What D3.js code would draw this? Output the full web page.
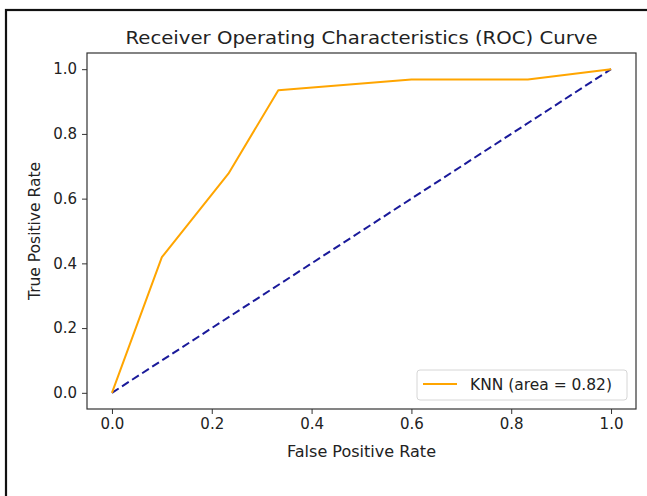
<!DOCTYPE html>
<html>
<head>
<meta charset="utf-8">
<script src="https://cdn.jsdelivr.net/npm/d3@7"></script>
<style>
  html, body { margin: 0; padding: 0; background: #fff; }
  svg { display: block; font-family: "DejaVu Sans", sans-serif; }
</style>
</head>
<body>
<div id="chart"></div>
<script>
const width = 647;
const height = 496;

// KNN ROC curve points
const fpr = [0, 0.1, 0.2333, 0.3333, 0.6, 0.8333, 1.0];
const tpr = [0, 0.419, 0.677, 0.935, 0.968, 0.968, 1.0];
const diagonal = [0, 1];
const tickValues = [0, 0.2, 0.4, 0.6, 0.8, 1.0];
const legendLabel = "KNN (area = 0.82)";

const margin = { top: 53, right: 11, bottom: 87, left: 87 };

const svg = d3.select("#chart").append("svg")
  .attr("width", width).attr("height", height);

// screenshot frame
svg.append("rect")
  .attr("x", 6).attr("y", 10)
  .attr("width", width + 20).attr("height", height + 20)
  .attr("fill", "none").attr("stroke", "#111").attr("stroke-width", 2.2);

const x = d3.scaleLinear().domain([-0.05, 1.05])
  .range([margin.left, width - margin.right]);
const y = d3.scaleLinear().domain([-0.05, 1.05])
  .range([height - margin.bottom, margin.top]);

const line = d3.line().x(d => x(d[0])).y(d => y(d[1]));

// diagonal reference
svg.append("path")
  .datum(diagonal.map(d => [d, d]))
  .attr("d", line)
  .attr("fill", "none")
  .attr("stroke", "#1a1a9a")
  .attr("stroke-width", 2)
  .attr("stroke-dasharray", "8,4");

// ROC curve
svg.append("path")
  .datum(fpr.map((d, i) => [d, tpr[i]]))
  .attr("d", line)
  .attr("fill", "none")
  .attr("stroke", "#ffa500")
  .attr("stroke-width", 2)
  .attr("stroke-linejoin", "round");

// axes
const xAxis = d3.axisBottom(x).tickValues(tickValues).tickFormat(d3.format(".1f"))
  .tickSize(5).tickPadding(4);
const yAxis = d3.axisLeft(y).tickValues(tickValues).tickFormat(d3.format(".1f"))
  .tickSize(5).tickPadding(5);

const gx = svg.append("g")
  .attr("transform", `translate(0,${height - margin.bottom})`)
  .call(xAxis);
const gy = svg.append("g")
  .attr("transform", `translate(${margin.left},0)`)
  .call(yAxis);

[gx, gy].forEach(g => {
  g.select(".domain").remove();
  g.selectAll(".tick line").attr("stroke", "#333");
  g.selectAll(".tick text")
    .attr("fill", "#222")
    .style("font-size", "15px")
    .style("font-family", "DejaVu Sans, sans-serif");
});

// spines
svg.append("rect")
  .attr("x", margin.left).attr("y", margin.top)
  .attr("width", width - margin.left - margin.right)
  .attr("height", height - margin.top - margin.bottom)
  .attr("fill", "none").attr("stroke", "#333").attr("stroke-width", 1.2);

// title and labels
svg.append("text")
  .attr("x", (x.range()[0] + x.range()[1]) / 2).attr("y", 44)
  .attr("text-anchor", "middle")
  .style("font-size", "18px").attr("fill", "#222")
  .attr("textLength", 472).attr("lengthAdjust", "spacingAndGlyphs")
  .text("Receiver Operating Characteristics (ROC) Curve");

svg.append("text")
  .attr("x", (x.range()[0] + x.range()[1]) / 2).attr("y", 457)
  .attr("text-anchor", "middle")
  .style("font-size", "15.5px").attr("fill", "#222")
  .attr("textLength", 149).attr("lengthAdjust", "spacingAndGlyphs")
  .text("False Positive Rate");

svg.append("text")
  .attr("transform", `translate(40,${(y.range()[0] + y.range()[1]) / 2}) rotate(-90)`)
  .attr("text-anchor", "middle")
  .style("font-size", "15.5px").attr("fill", "#222")
  .text("True Positive Rate");

// legend
const legend = svg.append("g").attr("transform", "translate(417,370)");
legend.append("rect")
  .attr("width", 210).attr("height", 30).attr("rx", 3)
  .attr("fill", "#fff").attr("stroke", "#d6d6d6");
legend.append("line")
  .attr("x1", 6).attr("x2", 40).attr("y1", 14).attr("y2", 14)
  .attr("stroke", "#ffa500").attr("stroke-width", 2);
legend.append("text")
  .attr("x", 53).attr("y", 20)
  .style("font-size", "15px").attr("fill", "#222")
  .attr("textLength", 142).attr("lengthAdjust", "spacingAndGlyphs")
  .text(legendLabel);
</script>
</body>
</html>
